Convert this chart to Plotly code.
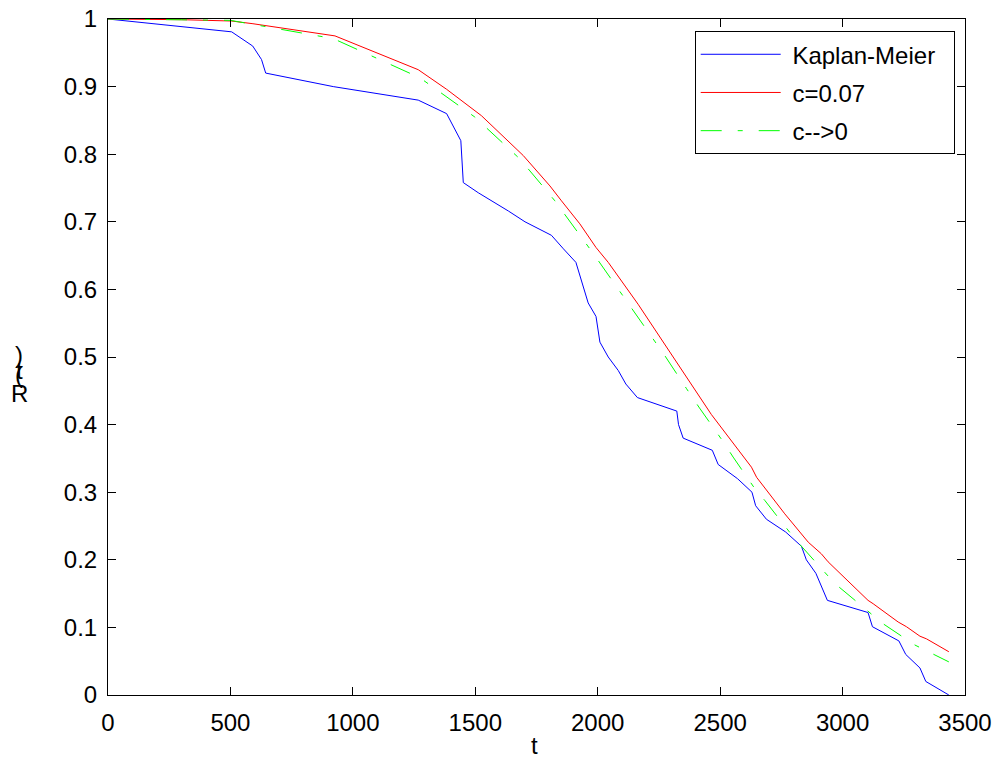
import plotly.graph_objects as go

# Kaplan-Meier estimate
km_t = [0, 505, 591, 627, 644, 920, 1267, 1383, 1441, 1451, 1512, 1567, 1635, 1703, 1811, 1860,
        1911, 1961, 1993, 2009, 2043, 2084, 2115, 2162, 2323, 2330, 2349, 2468, 2492, 2571, 2630,
        2645, 2689, 2768, 2832, 2852, 2891, 2938, 3104, 3122, 3230, 3258, 3316, 3340, 3434]
km_r = [1.0, 0.981, 0.960, 0.940, 0.920, 0.900, 0.880, 0.860, 0.820, 0.758, 0.743, 0.731, 0.716,
        0.700, 0.680, 0.660, 0.640, 0.580, 0.560, 0.522, 0.500, 0.480, 0.460, 0.440, 0.420, 0.400,
        0.380, 0.362, 0.341, 0.320, 0.300, 0.280, 0.260, 0.241, 0.220, 0.200, 0.180, 0.140, 0.122,
        0.101, 0.080, 0.060, 0.040, 0.020, 0.0]

# c = 0.07
c07_t = [0, 300, 505, 592, 927, 1267, 1383, 1525, 1696, 1805, 1852, 1927, 1993, 2010, 2043, 2165,
         2336, 2464, 2628, 2649, 2764, 2839, 2860, 2913, 2941, 3104, 3125, 3227, 3261, 3316, 3343, 3434]
c07_r = [1.0, 0.999, 0.997, 0.993, 0.975, 0.925, 0.896, 0.857, 0.798, 0.753, 0.731, 0.697, 0.662,
         0.655, 0.640, 0.578, 0.485, 0.415, 0.337, 0.322, 0.268, 0.236, 0.226, 0.209, 0.197, 0.140,
         0.135, 0.108, 0.101, 0.087, 0.083, 0.064]

# c --> 0
c0_t = [0, 500, 920, 1274, 1498, 1682, 1798, 1825, 1988, 2131, 2274, 2363, 2413, 2506, 2553, 2646,
        2682, 2805, 2968, 3091, 3159, 3295, 3434]
c0_r = [1.0, 0.998, 0.971, 0.913, 0.855, 0.793, 0.743, 0.731, 0.650, 0.576, 0.502, 0.453, 0.426,
        0.378, 0.352, 0.303, 0.288, 0.231, 0.165, 0.128, 0.107, 0.074, 0.049]

x_ticks = [0, 500, 1000, 1500, 2000, 2500, 3000, 3500]
y_ticks = [0, 0.1, 0.2, 0.3, 0.4, 0.5, 0.6, 0.7, 0.8, 0.9, 1]
y_ticktext = ["0", "0.1", "0.2", "0.3", "0.4", "0.5", "0.6", "0.7", "0.8", "0.9", "1"]

FONT = "Liberation Sans, Arial, Helvetica, sans-serif"
FS = 24
NB = "\u00a0"

fig = go.Figure()
fig.add_trace(go.Scatter(x=km_t, y=km_r, mode="lines", name=NB + "Kaplan-Meier" + NB * 2,
                         legendgroup="a", line=dict(color="#0000FF", width=1)))
fig.add_trace(go.Scatter(x=c07_t, y=c07_r, mode="lines", name=NB + "c=0.07",
                         legendgroup="b", line=dict(color="#FF0000", width=1)))
fig.add_trace(go.Scatter(x=c0_t, y=c0_r, mode="lines", name=NB + "c-->0",
                         legendgroup="c",
                         line=dict(color="#00FF00", width=1, dash="21px,16px,5px,16px")))

axis_common = dict(showgrid=False, zeroline=False, showline=True, linecolor="black", linewidth=1,
                   mirror="ticks", ticks="inside", ticklen=8, tickcolor="black", tickwidth=1,
                   automargin=False, ticklabeloverflow="allow",
                   tickfont=dict(family=FONT, size=FS, color="black"))

fig.update_xaxes(range=[0, 3500], tickvals=x_ticks, ticktext=[str(v) for v in x_ticks],
                 ticklabelstandoff=6, **axis_common)
fig.update_yaxes(range=[0, 1], tickvals=y_ticks, ticktext=y_ticktext,
                 ticklabelstandoff=5, **axis_common)

# x-axis title
fig.add_annotation(text="t", xref="paper", yref="paper", x=0.498, y=-0.0754,
                   xanchor="center", yanchor="middle", showarrow=False,
                   font=dict(family=FONT, size=FS, color="black"))

# y-axis label as rendered in the reference (stacked glyphs)
ylab = [(")", 0.5044), ("t", 0.4793), ("(", 0.4734), ("R", 0.4453)]
for txt, yy in ylab:
    fig.add_annotation(text=txt, xref="paper", yref="paper", x=-0.1033, y=yy,
                       xanchor="center", yanchor="middle", showarrow=False,
                       font=dict(family=FONT, size=FS, color="black"))

fig.update_layout(
    width=996, height=762,
    margin=dict(l=108, r=31, t=19, b=67),
    paper_bgcolor="white", plot_bgcolor="white",
    font=dict(family=FONT, size=FS, color="black"),
    showlegend=True,
    legend=dict(x=0.988, xanchor="right", y=0.982, yanchor="top",
                bgcolor="white", bordercolor="black", borderwidth=1,
                font=dict(family=FONT, size=FS, color="black"), itemwidth=80,
                tracegroupgap=4),
)

# remove the browser's default 8px body margin so the figure fills the window exactly
fig.write_html("out.html", config={"displayModeBar": False},
               post_script="document.body.style.margin='0';document.body.style.overflow='hidden';")
